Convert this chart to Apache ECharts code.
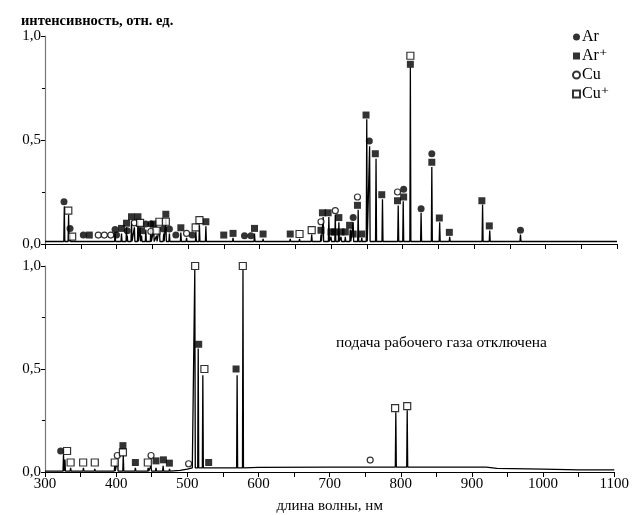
<!DOCTYPE html>
<html>
<head>
<meta charset="utf-8">
<script src="https://cdn.jsdelivr.net/npm/echarts@6/dist/echarts.min.js"></script>
<style>
  html, body { margin: 0; padding: 0; background: #fff; }
  #chart { width: 632px; height: 515px; }
</style>
</head>
<body>
<div id="chart"></div>
<script>
// оси
const xTicks = [300, 400, 500, 600, 700, 800, 900, 1000, 1100];
const yTicks = [0, 0.5, 1.0];

// верхняя панель: пики спектра (нм, отн. ед.)
const topPeakNm = [327, 333, 335, 338, 354, 362, 375, 383, 392, 398, 400, 407, 414, 415, 421, 425, 430, 433, 435, 441, 448, 452, 456, 460, 466, 469, 474, 483, 490, 498, 506, 511, 516, 525, 550, 563, 579, 588, 593, 605, 643, 656, 673, 686, 689, 697, 700, 706, 711, 714, 720, 727, 731, 738, 743, 750, 754, 763, 772, 794, 801, 811, 826, 841, 852, 866, 912, 922, 965];
const topPeakVal = [0.18, 0.14, 0.05, 0.02, 0.02, 0.02, 0.02, 0.02, 0.02, 0.05, 0.02, 0.05, 0.08, 0.04, 0.11, 0.08, 0.11, 0.08, 0.04, 0.07, 0.07, 0.07, 0.04, 0.08, 0.05, 0.12, 0.05, 0.02, 0.055, 0.03, 0.02, 0.06, 0.09, 0.085, 0.02, 0.03, 0.02, 0.02, 0.05, 0.025, 0.025, 0.025, 0.045, 0.045, 0.13, 0.13, 0.035, 0.14, 0.105, 0.035, 0.035, 0.07, 0.105, 0.165, 0.03, 0.60, 0.47, 0.41, 0.215, 0.185, 0.205, 0.85, 0.15, 0.37, 0.105, 0.035, 0.19, 0.065, 0.045];
const topBaseNm = [300, 1100];
const topBaseVal = [0.012, 0.012];

// верхняя панель: метки линий
const topAr = [[326.6, 0.203], [335, 0.075], [353.6, 0.043], [398, 0.07], [400, 0.043], [415, 0.064], [441, 0.096], [448, 0.096], [465.5, 0.072], [474, 0.072], [483, 0.043], [506, 0.043], [579, 0.04], [588, 0.04], [731, 0.128], [753.6, 0.495], [801.6, 0.263], [826, 0.17], [841, 0.434], [965, 0.066]];
const topArII = [[362, 0.043], [407, 0.075], [414, 0.1], [421, 0.131], [430, 0.131], [435, 0.064], [452, 0.096], [469, 0.143], [490, 0.078], [525, 0.107], [550, 0.043], [563, 0.051], [593, 0.075], [605, 0.048], [643, 0.048], [686, 0.066], [688, 0.15], [696, 0.15], [700, 0.058], [705, 0.058], [711, 0.127], [714, 0.058], [720, 0.058], [726, 0.09], [731, 0.048], [737, 0.186], [743, 0.048], [749, 0.62], [762, 0.434], [771, 0.237], [793, 0.208], [801.6, 0.226], [811, 0.864], [841, 0.393], [851.5, 0.125], [865.5, 0.056], [911, 0.208], [921.4, 0.087]];
const topCu = [[374.5, 0.043], [383, 0.043], [392, 0.043], [425, 0.102], [448, 0.06], [498, 0.051], [686, 0.107], [706, 0.16], [737, 0.226], [793, 0.25]];
const topCuII = [[332.6, 0.16], [338, 0.035], [433, 0.102], [456, 0.064], [460, 0.107], [469, 0.107], [510.7, 0.08], [516, 0.115], [656, 0.048], [673, 0.067], [811, 0.905]];

// нижняя панель: пики спектра
const botPeakNm = [326, 328, 336, 354, 370, 398, 402, 410, 427, 445, 449, 456, 466, 475, 502, 510.5, 515.3, 521.8, 530, 570, 578.2, 793, 809];
const botPeakVal = [0.085, 0.06, 0.02, 0.02, 0.015, 0.03, 0.06, 0.085, 0.02, 0.02, 0.03, 0.02, 0.03, 0.015, 0.015, 0.98, 0.6, 0.47, 0.02, 0.47, 0.98, 0.29, 0.30];
const botBaseNm = [300, 490, 500, 507, 600, 700, 920, 935, 1000, 1050, 1100];
const botBaseVal = [0.004, 0.008, 0.014, 0.02, 0.022, 0.024, 0.024, 0.018, 0.014, 0.01, 0.01];

// нижняя панель: метки линий
const botAr = [[322, 0.102]];
const botArII = [[409.5, 0.128], [427, 0.046], [456, 0.054], [466.4, 0.059], [474.8, 0.043], [516, 0.62], [530, 0.046], [568.5, 0.5]];
const botCu = [[401.6, 0.08], [449, 0.08], [501.8, 0.04], [757, 0.058]];
const botCuII = [[331, 0.102], [336, 0.046], [353.6, 0.046], [370, 0.046], [398, 0.046], [409.5, 0.095], [444.5, 0.046], [511, 1.0], [524, 0.5], [578, 1.0], [792, 0.31], [809, 0.32]];

const FONT = '"Liberation Serif", "DejaVu Serif", serif';

// собрать линию спектра из базовой линии и пиков
function spectrum(baseNm, baseVal, peakNm, peakVal) {
  const pts = baseNm.map((x, i) => [x, baseVal[i]]);
  peakNm.forEach((x, i) => {
    let b = baseVal[0];
    baseNm.forEach((bx, j) => { if (bx <= x) b = baseVal[j]; });
    pts.push([x - 0.7, b], [x, peakVal[i]], [x + 0.7, b]);
  });
  return pts.sort((a, b) => a[0] - b[0]);
}

const markerStyles = {
  'Ar': { symbol: 'circle', size: 7, itemStyle: { color: '#000' } },
  'Ar⁺': { symbol: 'rect', size: 7, itemStyle: { color: '#000' } },
  'Cu': { symbol: 'circle', size: 6, itemStyle: { color: '#fff', borderColor: '#000', borderWidth: 1.2 } },
  'Cu⁺': { symbol: 'rect', size: 7, itemStyle: { color: '#fff', borderColor: '#000', borderWidth: 1.2 } }
};

function markers(name, data, idx) {
  const s = markerStyles[name];
  return {
    name: name, type: 'scatter', xAxisIndex: idx, yAxisIndex: idx,
    symbol: s.symbol, symbolSize: s.size, itemStyle: s.itemStyle,
    data: data, z: 5, silent: true
  };
}

function xAxis(idx, withLabels) {
  return {
    type: 'value', gridIndex: idx, min: xTicks[0], max: xTicks[xTicks.length - 1], interval: 100,
    axisLine: { lineStyle: { color: '#000', width: 1.2 } },
    axisTick: { show: true, length: 5, lineStyle: { color: '#000' } },
    minorTick: { show: true, splitNumber: 2, length: 5, lineStyle: { color: '#000' } },
    splitLine: { show: false },
    axisLabel: { show: withLabels, color: '#000', fontFamily: FONT, fontSize: 15, margin: 5,
      formatter: v => String(v) },
    name: withLabels ? 'длина волны, нм' : '', nameLocation: 'middle', nameGap: 27,
    nameTextStyle: { color: '#000', fontFamily: FONT, fontSize: 15 }
  };
}

function yAxis(idx) {
  return {
    type: 'value', gridIndex: idx, min: yTicks[0], max: yTicks[yTicks.length - 1], interval: 0.5,
    axisLine: { show: true, lineStyle: { color: '#777', width: 1.2 } },
    axisTick: { show: true, length: 4, lineStyle: { color: '#000' } },
    minorTick: { show: true, splitNumber: 2, length: 3, lineStyle: { color: '#000' } },
    splitLine: { show: false },
    axisLabel: {
      color: '#000', fontFamily: FONT, fontSize: 15, margin: 4,
      formatter: v => v.toFixed(1).replace('.', ',')
    }
  };
}

const chart = echarts.init(document.getElementById('chart'));
chart.setOption({
  animation: false,
  backgroundColor: '#fff',
  grid: [
    { left: 45, right: 15, top: 36, height: 208 },
    { left: 45, right: 15, top: 266, height: 208 }
  ],
  xAxis: [xAxis(0, false), xAxis(1, true)],
  yAxis: [yAxis(0), yAxis(1)],
  legend: {
    orient: 'vertical', left: 567, top: 24, itemGap: 3, itemWidth: 7, itemHeight: 7,
    data: ['Ar', 'Ar⁺', 'Cu', 'Cu⁺'],
    textStyle: { color: '#000', fontFamily: FONT, fontSize: 16, padding: [0, 0, 0, -3] }
  },
  graphic: [
    { type: 'text', left: 21, top: 14,
      style: { text: 'интенсивность, отн. ед.', fill: '#000', font: 'bold 14.5px ' + FONT } },
    { type: 'text', left: 336, top: 335,
      style: { text: 'подача рабочего газа отключена', fill: '#000', font: '15.5px ' + FONT } }
  ],
  series: [
    { type: 'line', xAxisIndex: 0, yAxisIndex: 0, showSymbol: false, silent: true,
      lineStyle: { color: '#000', width: 1.3 }, data: spectrum(topBaseNm, topBaseVal, topPeakNm, topPeakVal) },
    { type: 'line', xAxisIndex: 1, yAxisIndex: 1, showSymbol: false, silent: true,
      lineStyle: { color: '#000', width: 1.3 }, data: spectrum(botBaseNm, botBaseVal, botPeakNm, botPeakVal) },
    markers('Ar', topAr, 0), markers('Ar⁺', topArII, 0), markers('Cu', topCu, 0), markers('Cu⁺', topCuII, 0),
    markers('Ar', botAr, 1), markers('Ar⁺', botArII, 1), markers('Cu', botCu, 1), markers('Cu⁺', botCuII, 1)
  ]
});
</script>
</body>
</html>
